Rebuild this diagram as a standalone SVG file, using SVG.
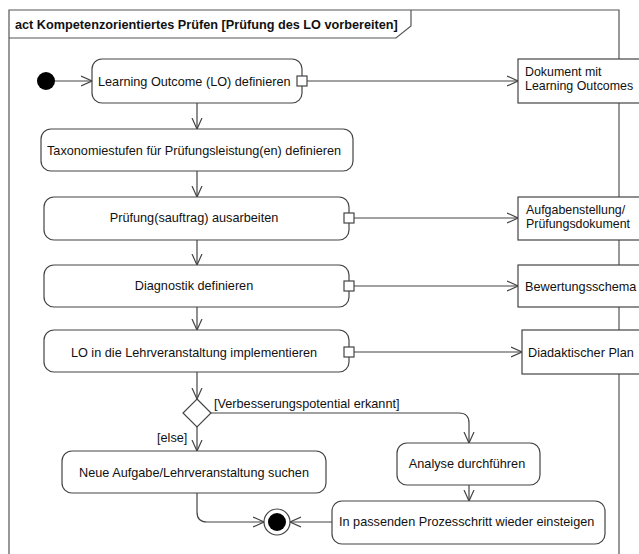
<svg xmlns="http://www.w3.org/2000/svg" width="639" height="554" viewBox="0 0 639 554">
<defs>
<style>
.t{font-family:"Liberation Sans",Arial,sans-serif;font-size:12.7px;fill:#111}
.t2{font-family:"Liberation Sans",Arial,sans-serif;font-size:12.4px;fill:#111}
.tb{font-family:"Liberation Sans",Arial,sans-serif;font-size:12.7px;font-weight:bold;fill:#111}
.act{fill:#fff;stroke:#444;stroke-width:1.2}
.obj{fill:#fff;stroke:#444;stroke-width:1.2}
.pin{fill:#fff;stroke:#444;stroke-width:1.2}
.c{fill:none;stroke:#444;stroke-width:1.2}
</style>
<marker id="ah" markerWidth="12" markerHeight="12" refX="11" refY="6" orient="auto" markerUnits="userSpaceOnUse">
<path d="M0,1 L11,6 L0,11" fill="none" stroke="#444" stroke-width="1.2"/>
</marker>
</defs>
<rect width="639" height="554" fill="#fff"/>
<g id="frame">
<path d="M9,560 V10 H619 V560" fill="none" stroke="#555" stroke-width="1.2"/>
<path d="M9,38 H396 L411,26 V10" fill="none" stroke="#555" stroke-width="1.2"/>
<text class="tb" x="15" y="29">act Kompetenzorientiertes Prüfen [Prüfung des LO vorbereiten]</text>
</g>
<g id="connectors">
<line class="c" x1="55" y1="81" x2="92" y2="81" marker-end="url(#ah)"/>
<line class="c" x1="307" y1="81" x2="518" y2="81" marker-end="url(#ah)"/>
<line class="c" x1="197" y1="103" x2="197" y2="129" marker-end="url(#ah)"/>
<line class="c" x1="197" y1="171" x2="197" y2="197" marker-end="url(#ah)"/>
<line class="c" x1="354" y1="218" x2="518" y2="218" marker-end="url(#ah)"/>
<line class="c" x1="197" y1="240" x2="197" y2="265" marker-end="url(#ah)"/>
<line class="c" x1="354" y1="286" x2="518" y2="286" marker-end="url(#ah)"/>
<line class="c" x1="197" y1="307" x2="197" y2="330" marker-end="url(#ah)"/>
<line class="c" x1="354" y1="352" x2="522" y2="352" marker-end="url(#ah)"/>
<line class="c" x1="197" y1="372" x2="197" y2="399" marker-end="url(#ah)"/>
<path class="c" d="M211,413 H459 Q469,413 469,423 V443" marker-end="url(#ah)"/>
<line class="c" x1="197" y1="427" x2="197" y2="451" marker-end="url(#ah)"/>
<line class="c" x1="469" y1="485" x2="469" y2="501" marker-end="url(#ah)"/>
<path class="c" d="M197,493 V512 Q197,522 207,522 H264" marker-end="url(#ah)"/>
<line class="c" x1="332" y1="522" x2="290" y2="522" marker-end="url(#ah)"/>
<text class="t" x="214" y="408">[Verbesserungspotential erkannt]</text>
<text class="t" x="157" y="442">[else]</text>
</g>
<g id="start"><circle cx="46" cy="81" r="9" fill="#000"/></g>
<g id="lo-definieren">
<rect class="act" x="92" y="59" width="210" height="44" rx="10"/>
<text class="t" x="98" y="86">Learning Outcome (LO) definieren</text>
<rect class="pin" x="297" y="76" width="10" height="10"/>
</g>
<g id="taxonomie">
<rect class="act" x="41" y="129" width="312" height="42" rx="10"/>
<text class="t" x="47" y="155">Taxonomiestufen für Prüfungsleistung(en) definieren</text>
</g>
<g id="pruefung">
<rect class="act" x="44" y="197" width="305" height="43" rx="10"/>
<text class="t" x="194" y="222" text-anchor="middle">Prüfung(sauftrag) ausarbeiten</text>
<rect class="pin" x="344" y="213" width="10" height="10"/>
</g>
<g id="diagnostik">
<rect class="act" x="44" y="265" width="305" height="42" rx="10"/>
<text class="t" x="194" y="290" text-anchor="middle">Diagnostik definieren</text>
<rect class="pin" x="344" y="281" width="10" height="10"/>
</g>
<g id="lo-implementieren">
<rect class="act" x="44" y="330" width="305" height="42" rx="10"/>
<text class="t" x="194" y="357" text-anchor="middle">LO in die Lehrveranstaltung implementieren</text>
<rect class="pin" x="344" y="347" width="10" height="10"/>
</g>
<g id="dokument">
<rect class="obj" x="518" y="59" width="140" height="44"/>
<text class="t2" x="525" y="76">Dokument mit</text>
<text class="t2" x="525" y="90">Learning Outcomes</text>
</g>
<g id="aufgabenstellung">
<rect class="obj" x="518" y="197" width="140" height="43"/>
<text class="t2" x="526" y="214">Aufgabenstellung/</text>
<text class="t2" x="526" y="228">Prüfungsdokument</text>
</g>
<g id="bewertungsschema">
<rect class="obj" x="518" y="265" width="140" height="42"/>
<text class="t" x="525" y="291">Bewertungsschema</text>
</g>
<g id="didaktischer-plan">
<rect class="obj" x="522" y="330" width="140" height="44"/>
<text class="t" x="528" y="357">Diadaktischer Plan</text>
</g>
<g id="decision">
<path d="M197,399 L211,413 L197,427 L183,413 Z" fill="#fff" stroke="#444" stroke-width="1.2"/>
</g>
<g id="neue-aufgabe">
<rect class="act" x="62" y="451" width="264" height="42" rx="10"/>
<text class="t" x="194" y="477" text-anchor="middle">Neue Aufgabe/Lehrveranstaltung suchen</text>
</g>
<g id="analyse">
<rect class="act" x="397" y="443" width="143" height="42" rx="10"/>
<text class="t" x="467" y="468" text-anchor="middle">Analyse durchführen</text>
</g>
<g id="wieder-einsteigen">
<rect class="act" x="332" y="501" width="273" height="43" rx="10"/>
<text class="t" x="339" y="526">In passenden Prozesschritt wieder einsteigen</text>
</g>
<g id="final">
<circle cx="277" cy="522" r="13" fill="#fff" stroke="#444" stroke-width="1.2"/>
<circle cx="277" cy="522" r="9" fill="#000"/>
</g>
</svg>
